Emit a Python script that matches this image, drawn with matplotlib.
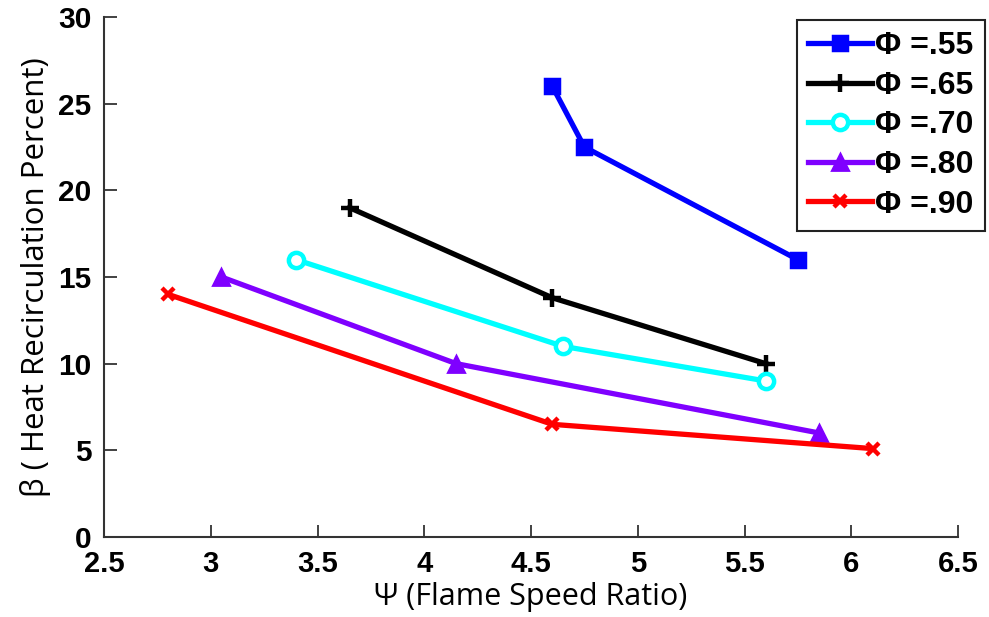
import matplotlib
matplotlib.use("Agg")
import matplotlib.pyplot as plt

# ---- data ----
labels = ["Φ =.55", "Φ =.65", "Φ =.70", "Φ =.80", "Φ =.90"]
x_055 = [4.6, 4.75, 5.75]
y_055 = [26.0, 22.5, 16.0]
x_065 = [3.65, 4.6, 5.6]
y_065 = [19.0, 13.8, 10.0]
x_070 = [3.4, 4.65, 5.6]
y_070 = [16.0, 11.0, 9.0]
x_080 = [3.05, 4.15, 5.85]
y_080 = [15.0, 10.0, 6.0]
x_090 = [2.8, 4.6, 6.1]
y_090 = [14.0, 6.5, 5.1]
xticks = [2.5, 3, 3.5, 4, 4.5, 5, 5.5, 6, 6.5]
xtick_labels = ["2.5", "3", "3.5", "4", "4.5", "5", "5.5", "6", "6.5"]
yticks = [0, 5, 10, 15, 20, 25, 30]

fig = plt.figure(figsize=(9.89, 6.17), dpi=100)
ax = fig.add_axes([104/989, 1-537/617, (958-104)/989, (537-17)/617])

purple = "#7F00FF"
series = [
    (x_055, y_055, "#0000FF", "s", dict(markersize=10, markerfacecolor="#0000FF", markeredgewidth=2.5)),
    (x_065, y_065, "black", "+", dict(markersize=13, markeredgewidth=3.2)),
    (x_070, y_070, "#00FFFF", "o", dict(markersize=11, markerfacecolor="white", markeredgewidth=3.2)),
    (x_080, y_080, purple, "^", dict(markersize=12, markerfacecolor=purple, markeredgewidth=2)),
    (x_090, y_090, "#FF0000", "x", dict(markersize=8, markeredgewidth=3.2)),
]
for (xs, ys, c, m, kw), lab in zip(series, labels):
    ax.plot(xs, ys, color=c, marker=m, lw=3.8, markeredgecolor=c, label=lab, **kw)

ax.set_xlim(2.5, 6.5)
ax.set_ylim(0, 30)
ax.set_xticks(xticks)
ax.set_xticklabels(xtick_labels)
ax.set_yticks(yticks)

for s in ["top", "right"]:
    ax.spines[s].set_visible(False)
for s in ["left", "bottom"]:
    ax.spines[s].set_linewidth(1.5)
    ax.spines[s].set_color("#333333")

ax.tick_params(direction="in", length=9, width=1.3, color="#333333")
ax.tick_params(axis="y", pad=9)
ax.tick_params(axis="x", pad=9)
for t in ax.get_yticklabels():
    t.set_fontfamily("Liberation Sans")
    t.set_fontweight("bold")
    t.set_fontsize(21.5)
for t in ax.get_xticklabels():
    t.set_fontfamily("Liberation Sans")
    t.set_fontweight("bold")
    t.set_fontsize(21)

ax.set_xlabel("Ψ (Flame Speed Ratio)", fontsize=22, family=["Open Sans", "DejaVu Sans"], labelpad=3)
ax.set_ylabel("β ( Heat Recirculation Percent)", fontsize=22.5, family=["Open Sans", "DejaVu Sans"], labelpad=5)

leg = fig.legend(loc="upper right", bbox_to_anchor=(985/989, 1-20/617), bbox_transform=fig.transFigure,
                 borderaxespad=0, fancybox=False, edgecolor="#222222", framealpha=1,
                 prop=dict(family="Liberation Sans", weight="bold", size=23),
                 handlelength=2.0, handletextpad=0.1, labelspacing=0.3, borderpad=0.35)
leg.get_frame().set_linewidth(1.5)

fig.savefig("out.png", dpi=100)
